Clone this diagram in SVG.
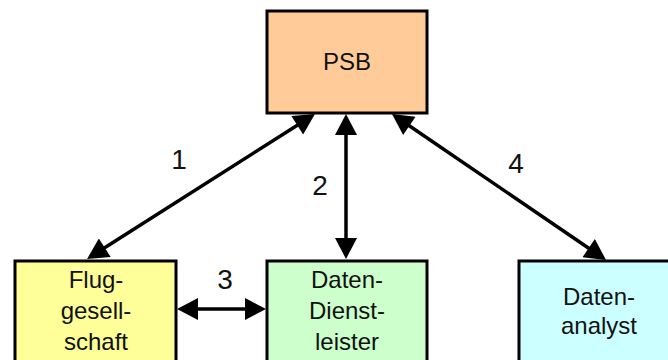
<svg xmlns="http://www.w3.org/2000/svg" width="668" height="360" viewBox="0 0 668 360">
  <style>
    .box { stroke: #000; stroke-width: 3; }
    .lbl { font-family: "Liberation Sans", Arial, Helvetica, sans-serif; font-size: 24px; fill: #111; text-anchor: middle; }
    .num { font-family: "Liberation Sans", Arial, Helvetica, sans-serif; font-size: 28px; fill: #111; text-anchor: middle; }
    .link { stroke: #000; stroke-width: 3.5; fill: none; marker-start: url(#head); marker-end: url(#head); }
  </style>
  <defs>
    <marker id="head" markerUnits="userSpaceOnUse" markerWidth="22" markerHeight="22" refX="1" refY="11" orient="auto-start-reverse" viewBox="0 0 21 22">
      <path d="M0,0 L21,11 L0,22 z" fill="#000"/>
    </marker>
  </defs>

  <rect width="668" height="360" fill="#fff"/>

  <!-- connectors -->
  <g id="connectors">
    <line class="link" x1="298.1" y1="124.7" x2="103.9" y2="248.3"/>
    <line class="link" x1="346" y1="134" x2="346" y2="239"/>
    <line class="link" x1="197" y1="309" x2="246" y2="309"/>
    <line class="link" x1="408.5" y1="125.3" x2="589.5" y2="248.7"/>
    <text class="num" x="179" y="169">1</text>
    <text class="num" x="320" y="195">2</text>
    <text class="num" x="225" y="289">3</text>
    <text class="num" x="516" y="173">4</text>
  </g>

  <g id="psb">
    <rect class="box" x="267" y="11" width="160" height="102" fill="#FFCC99"/>
    <text class="lbl" x="347" y="70">PSB</text>
  </g>

  <g id="fluggesellschaft">
    <rect class="box" x="15" y="261" width="161" height="110" fill="#FFFF99"/>
    <text class="lbl" x="96" y="288">Flug-</text>
    <text class="lbl" x="96" y="319">gesell-</text>
    <text class="lbl" x="96" y="350">schaft</text>
  </g>

  <g id="datendienstleister">
    <rect class="box" x="267" y="261" width="160" height="110" fill="#CCFFCC"/>
    <text class="lbl" x="347" y="288">Daten-</text>
    <text class="lbl" x="347" y="319">Dienst-</text>
    <text class="lbl" x="347" y="350">leister</text>
  </g>

  <g id="datenanalyst">
    <rect class="box" x="519" y="261" width="160" height="110" fill="#CCFFFF"/>
    <text class="lbl" x="599" y="305">Daten-</text>
    <text class="lbl" x="599" y="334">analyst</text>
  </g>
</svg>
